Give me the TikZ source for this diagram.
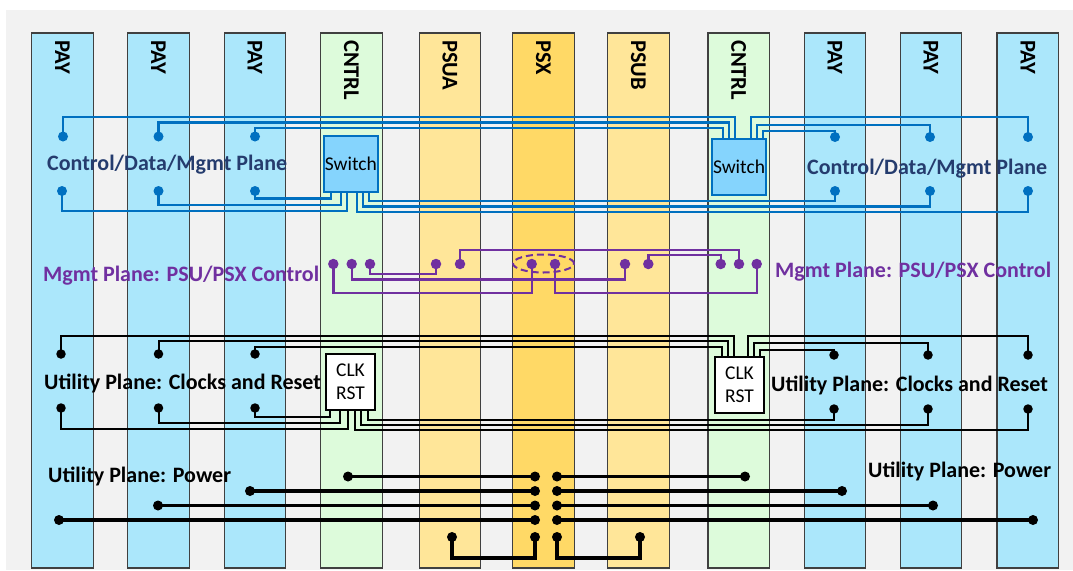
\documentclass[tikz,border=0pt]{standalone}
\usepackage{fontspec}
\setmainfont{Carlito}
\usetikzlibrary{shapes.geometric}
\definecolor{bgc}{HTML}{F2F2F2}
\definecolor{paycol}{HTML}{ABE7FB}
\definecolor{ctlcol}{HTML}{DDFBDB}
\definecolor{psucol}{HTML}{FFE699}
\definecolor{psxcol}{HTML}{FFD966}
\definecolor{colborder}{HTML}{404040}
\definecolor{bluew}{HTML}{0070C0}
\definecolor{swfill}{HTML}{85D4FD}
\definecolor{purw}{HTML}{7030A0}
\definecolor{navy}{HTML}{253C6E}
\begin{document}
\begin{tikzpicture}[x=1pt,y=-1pt,
  col/.style={draw=colborder,line width=1.2pt,minimum width=61.5pt,minimum height=535pt,inner sep=0pt},
  collab/.style={rotate=-90,anchor=west,inner sep=0pt,font=\fontsize{22.5}{25}\selectfont\bfseries},
  bw/.style={draw=bluew,line width=2.4pt},
  pw/.style={draw=purw,line width=2.4pt},
  uw/.style={draw=black,line width=2pt},
  pwr/.style={draw=black,line width=3.2pt},
  bdot/.style={circle,fill=bluew,inner sep=0pt,minimum size=10pt},
  pdot/.style={circle,fill=purw,inner sep=0pt,minimum size=10.5pt},
  udot/.style={circle,fill=black,inner sep=0pt,minimum size=9.5pt},
  wdot/.style={circle,fill=black,inner sep=0pt,minimum size=10pt},
  sw/.style={draw=bluew,fill=swfill,line width=2.2pt,minimum width=53pt,minimum height=56pt,inner sep=0pt,font=\fontsize{19.5}{22}\selectfont},
  ck/.style={draw=black,fill=white,line width=2.4pt,minimum width=49pt,minimum height=56pt,inner sep=0pt,align=center,font=\fontsize{19.5}{23}\selectfont},
  plab/.style={anchor=base west,inner sep=0pt,font=\fontsize{22}{26}\selectfont\bfseries}
]
\useasboundingbox (0,0) rectangle (1073,570);
\fill[bgc] (6,10) rectangle (1073,570);

% columns
\foreach \n/\x/\c/\t in {c1/62.5/paycol/PAY, c2/158.5/paycol/PAY, c3/255/paycol/PAY, c4/351.4/ctlcol/CNTRL, c5/450/psucol/PSUA, c6/543.5/psxcol/PSX, c7/638.5/psucol/PSUB, c8/738.7/ctlcol/CNTRL, c9/835/paycol/PAY, c10/931/paycol/PAY, c11/1027.8/paycol/PAY}{
  \node[col,fill=\c] (\n) at (\x,300.5) {};
  \node[collab] (\n lab) at ([yshift=-7.5pt]\n.north) {\t};
}

% ---------- Control/Data/Mgmt plane ----------
\node[sw,minimum width=54pt] (L) at (350.8,164) {Switch};
\node[sw,minimum width=54.5pt] (R) at (739,167) {Switch};
\foreach \n/\x/\y in {ua1/63/136.5, ua2/158.5/136.5, ua3/255/136.5, ua4/835/137, ua5/930/137, ua6/1028/137,
                      la1/62/191, la2/158.5/191, la3/255/191, la4/835/191, la5/930/191, la6/1028/191}{
  \coordinate (\n) at (\x,\y);
}
\draw[bw] (ua1) |- (735,117) -- (735,0 |- R.north);
\draw[bw] (ua2) |- (729,122.5) -- (729,0 |- R.north);
\draw[bw] (ua3) |- (723,128) -- (723,0 |- R.north);
\draw[bw] (ua6) |- (751,117) -- (751,0 |- R.north);
\draw[bw] (ua5) |- (757,125) -- (757,0 |- R.north);
\draw[bw] (ua4) |- (763,131) -- (763,0 |- R.north);
\draw[bw] (la3) |- (331,198.5) -- (331,0 |- L.south);
\draw[bw] (la2) |- (341,205) -- (341,0 |- L.south);
\draw[bw] (la1) |- (347,211) -- (347,0 |- L.south);
\draw[bw] (la6) |- (357,212) -- (357,0 |- L.south);
\draw[bw] (la5) |- (363,206.5) -- (363,0 |- L.south);
\draw[bw] (la4) |- (369,201) -- (369,0 |- L.south);
\node[sw,minimum width=54pt] at (L) {Switch};
\node[sw,minimum width=54.5pt] at (R) {Switch};
\foreach \n in {ua1,ua2,ua3,ua4,ua5,ua6,la1,la2,la3,la4,la5,la6}{
  \node[bdot] (\n d) at (\n) {};
}
\node[plab,text=navy] (cdl) at (47,170) {Control/Data/Mgmt Plane};
\node[plab,text=navy] (cdr) at (807,174) {Control/Data/Mgmt Plane};

% ---------- Mgmt plane ----------
\foreach \n/\x in {m1/333.3, m2/351.7, m3/370, a1/436, a2/460, x1/531.7, x2/555, b1/625, b2/648.3, n1/720.7, n2/739, n3/756.7}{
  \coordinate (\n) at (\x,264);
}
\draw[pw] (m3) -- ++(0,10) -| (a1);
\draw[pw] (m2) -- ++(0,15.5) -| (b1);
\draw[pw] (m1) -- ++(0,29) -| (x1);
\draw[pw] (a2) -- ++(0,-14) -| (n2);
\draw[pw] (b2) -- ++(0,-9) -| (n1);
\draw[pw] (x2) -- ++(0,29) -| (n3);
\foreach \n in {m1,m2,m3,a1,a2,x1,x2,b1,b2,n1,n2,n3}{
  \node[pdot] (\n d) at (\n) {};
}
\node[ellipse,draw=purw,line width=2pt,dash pattern=on 7pt off 4pt,minimum width=61pt,minimum height=18pt,inner sep=0pt] (ell) at (543.5,263.5) {};
\node[plab,text=purw] (mgl) at (43,281) {Mgmt Plane: PSU/PSX Control};
\node[plab,text=purw] (mgr) at (775,277) {Mgmt Plane: PSU/PSX Control};

% ---------- Utility plane: clocks and reset ----------
\node[ck] (LB) at (350.5,382) {CLK\\RST};
\node[ck] (RB) at (739.5,385) {CLK\\RST};
\foreach \n/\x/\y in {uu1/61/354, uu2/158.5/354, uu3/255/354, uu4/834/355, uu5/928/355, uu6/1028/355,
                      lu1/61/408, lu2/158.5/408, lu3/255/408, lu4/834/409, lu5/928/409, lu6/1028/409}{
  \coordinate (\n) at (\x,\y);
}
\draw[uw] (uu1) |- (734,336) -- (734,0 |- RB.north);
\draw[uw] (uu2) |- (728,341) -- (728,0 |- RB.north);
\draw[uw] (uu3) |- (721.5,347) -- (721.5,0 |- RB.north);
\draw[uw] (uu6) |- (748,336) -- (748,0 |- RB.north);
\draw[uw] (uu5) |- (754,343) -- (754,0 |- RB.north);
\draw[uw] (uu4) |- (760,350) -- (760,0 |- RB.north);
\draw[uw] (lu3) |- (330,417) -- (330,0 |- LB.south);
\draw[uw] (lu2) |- (340,423) -- (340,0 |- LB.south);
\draw[uw] (lu1) |- (348,428.5) -- (348,0 |- LB.south);
\draw[uw] (lu6) |- (355,430) -- (355,0 |- LB.south);
\draw[uw] (lu5) |- (361,425) -- (361,0 |- LB.south);
\draw[uw] (lu4) |- (368,420) -- (368,0 |- LB.south);
\node[ck] at (LB) {CLK\\RST};
\node[ck] at (RB) {CLK\\RST};
\foreach \n in {uu1,uu2,uu3,uu4,uu5,uu6,lu1,lu2,lu3,lu4,lu5,lu6}{
  \node[udot] (\n d) at (\n) {};
}
\node[plab] (ucl) at (44,389) {Utility Plane: Clocks and Reset};
\node[plab] (ucr) at (771,391) {Utility Plane: Clocks and Reset};

% ---------- Utility plane: power ----------
\foreach \n/\x/\y in {p1/535/476.5, p2/535/491, p3/535/505.5, p4/535/520, p5/535/537,
                      q1/557/476.5, q2/557/491, q3/557/505.5, q4/557/520, q5/557/537,
                      e1/348/476.5, e2/250/491, e3/158/505.5, e4/59/520,
                      f1/745/476.5, f2/842/491, f3/933/505.5, f4/1033/520,
                      pa/452/537, pb/640/537}{
  \coordinate (\n) at (\x,\y);
}
\draw[pwr] (e1) -- (p1);
\draw[pwr] (e2) -- (p2);
\draw[pwr] (e3) -- (p3);
\draw[pwr] (e4) -- (p4);
\draw[pwr] (q1) -- (f1);
\draw[pwr] (q2) -- (f2);
\draw[pwr] (q3) -- (f3);
\draw[pwr] (q4) -- (f4);
\draw[pwr] (pa) -- ++(0,21) -| (p5);
\draw[pwr] (q5) -- ++(0,21) -| (pb);
\foreach \n in {p1,p2,p3,p4,p5,q1,q2,q3,q4,q5,e1,e2,e3,e4,f1,f2,f3,f4,pa,pb}{
  \node[wdot] (\n d) at (\n) {};
}
\node[plab] (pwl) at (48,482) {Utility Plane: Power};
\node[plab] (pwrr) at (868,477) {Utility Plane: Power};
\end{tikzpicture}
\end{document}
